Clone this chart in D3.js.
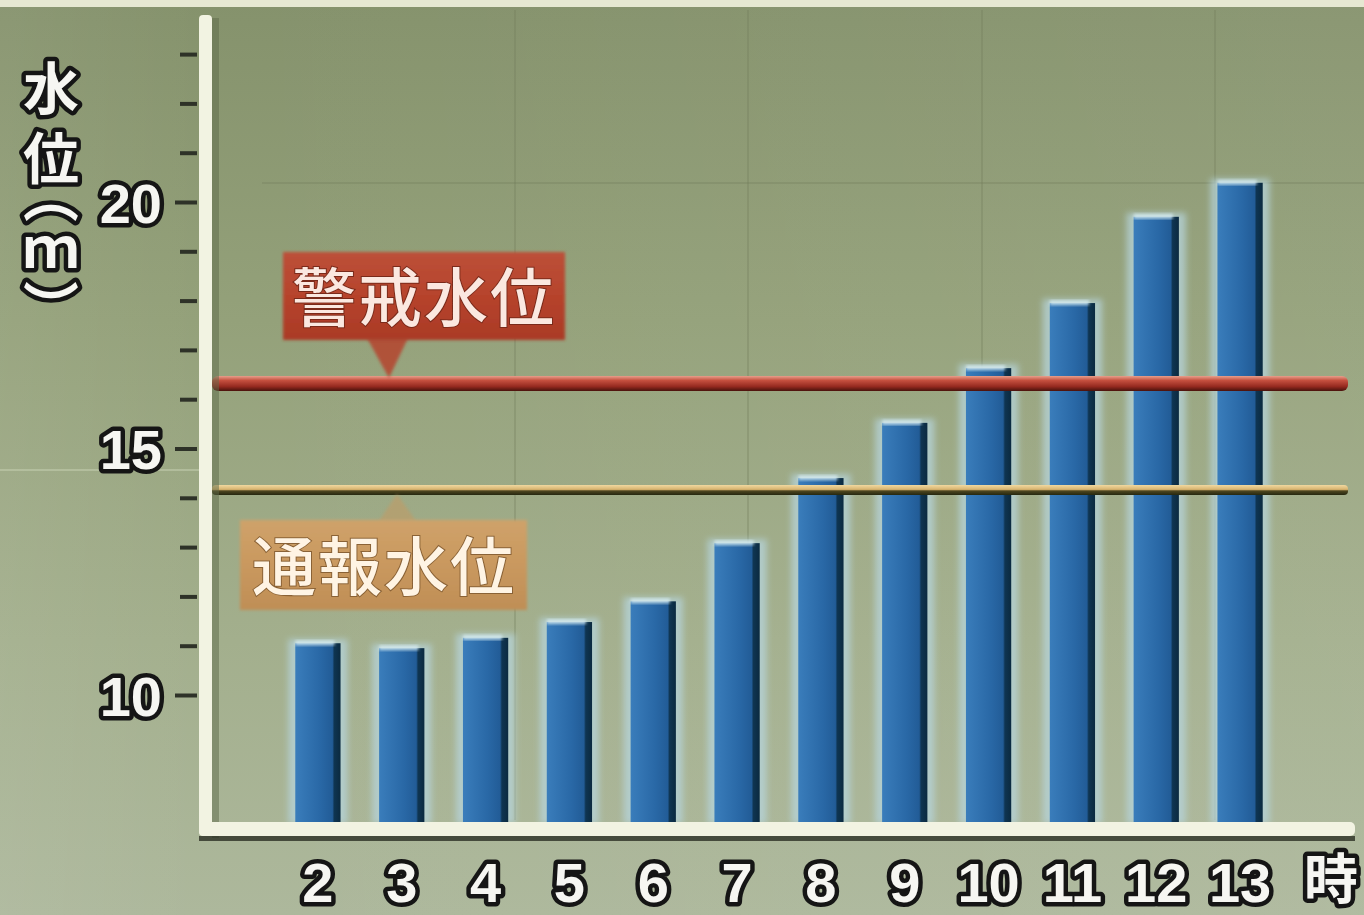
<!DOCTYPE html>
<html>
<head>
<meta charset="utf-8">
<script src="https://cdn.jsdelivr.net/npm/d3@7/dist/d3.min.js"></script>
<style>
  html, body { margin: 0; padding: 0; background: #95a27c; overflow: hidden; }
  svg { display: block; }
</style>
</head>
<body>
<svg id="chart" width="1364" height="915"></svg>
<script>
// ---- data ----
const hours = [2, 3, 4, 5, 6, 7, 8, 9, 10, 11, 12, 13];
const hourLabels = ["2", "3", "4", "5", "6", "7", "8", "9", "10", "11", "12", "13"];
const waterLevel = [11.05, 10.95, 11.16, 11.48, 11.9, 13.08, 14.4, 15.52, 16.63, 17.95, 19.7, 20.39];
const warningLevel = 16.33;   // 警戒水位
const reportLevel = 14.16;    // 通報水位
const yTicks = [10, 11, 12, 13, 14, 15, 16, 17, 18, 19, 20, 21, 22, 23];
const yMajor = [10, 15, 20];
const yTitleParts = ["水", "位", "（ｍ）"];
const xUnit = "時";
const warningText = "警戒水位";
const reportText = "通報水位";

// ---- setup ----
const W = 1364, H = 915;
const svg = d3.select("#chart");
const defs = svg.append("defs");

const y = d3.scaleLinear().domain([10, 20]).range([695, 202]);
const x = d3.scaleBand().domain(hours).range([276, 1282]).paddingInner(0.46).paddingOuter(0.23);
const yBase = y.invert(824);

function lin(id, stops, vertical = true) {
  const g = defs.append("linearGradient").attr("id", id)
    .attr("x1", 0).attr("y1", 0).attr("x2", vertical ? 0 : 1).attr("y2", vertical ? 1 : 0);
  stops.forEach(s => g.append("stop").attr("offset", s[0]).attr("stop-color", s[1]));
}
lin("bg", [[0, "#85926c"], [0.35, "#94a17a"], [0.7, "#a3af8d"], [1, "#adb89c"]]);
lin("bgL", [[0, "rgba(255,255,255,0.05)"], [0.15, "rgba(255,255,255,0)"], [1, "rgba(255,255,255,0.05)"]], false);
lin("barG", [[0, "#3a7dbb"], [0.55, "#2968a6"], [0.82, "#225c97"], [0.86, "#0f3552"], [1, "#0b2a40"]], false);
lin("redLine", [[0, "#e8a08c"], [0.3, "#c5503f"], [0.7, "#962a20"], [1, "#4a120c"]]);
lin("orangeLine", [[0, "#f1d9a0"], [0.45, "#d8b470"], [0.6, "#4e4620"], [1, "#262810"]]);
lin("redBox", [[0, "#bc5038"], [0.5, "#b6432c"], [1, "#aa3a26"]]);
lin("orangeBox", [[0, "#cfa26a"], [0.5, "#c9985e"], [1, "#bf8e56"]]);

const blur = defs.append("filter").attr("id", "blur").attr("x", "-50%").attr("y", "-20%").attr("width", "200%").attr("height", "140%");
blur.append("feGaussianBlur").attr("stdDeviation", 3);
const soft = defs.append("filter").attr("id", "soft").attr("x", "-10%").attr("y", "-20%").attr("width", "120%").attr("height", "140%");
soft.append("feGaussianBlur").attr("stdDeviation", 1.6);

// ---- background ----
svg.append("rect").attr("width", W).attr("height", H).attr("fill", "url(#bg)");
svg.append("rect").attr("width", W).attr("height", H).attr("fill", "url(#bgL)");
svg.append("rect").attr("width", W).attr("height", 7).attr("fill", "#e6e8d2");
const seams = svg.append("g").attr("stroke", "#6f7c58").attr("stroke-opacity", 0.3).attr("stroke-width", 2);
[515, 748, 982, 1215].forEach(sx => seams.append("line").attr("x1", sx).attr("x2", sx).attr("y1", 10).attr("y2", 820));
seams.append("line").attr("x1", 262).attr("x2", 1364).attr("y1", 183).attr("y2", 183);
seams.append("line").attr("x1", 0).attr("x2", 200).attr("y1", 470).attr("y2", 470).attr("stroke", "#c8d2b4").attr("stroke-opacity", 0.5);

// ---- bars ----
const bars = svg.append("g");
const data = hours.map((h, i) => ({ h, v: waterLevel[i] }));
bars.selectAll("rect.halo").data(data).join("rect").attr("class", "halo")
  .attr("x", d => x(d.h) - 7).attr("width", x.bandwidth() + 14)
  .attr("y", d => y(d.v) - 4).attr("height", d => y(yBase) - y(d.v) + 4)
  .attr("fill", "#b6d4dc").attr("opacity", 0.75).attr("filter", "url(#blur)");
bars.selectAll("rect.bar").data(data).join("rect").attr("class", "bar")
  .attr("x", d => x(d.h)).attr("width", x.bandwidth())
  .attr("y", d => y(d.v)).attr("height", d => y(yBase) - y(d.v))
  .attr("fill", "url(#barG)");
bars.selectAll("rect.cap").data(data).join("rect").attr("class", "cap")
  .attr("x", d => x(d.h)).attr("width", x.bandwidth() - 6)
  .attr("y", d => y(d.v) - 3).attr("height", 5)
  .attr("fill", "#d4eaf0").attr("opacity", 0.85).attr("filter", "url(#soft)");

// ---- reference lines ----
const lineX0 = 212, lineX1 = 1348;
svg.append("rect").attr("x", lineX0).attr("width", lineX1 - lineX0)
  .attr("y", y(warningLevel) - 7).attr("height", 15).attr("rx", 6)
  .attr("fill", "url(#redLine)");
svg.append("rect").attr("x", lineX0).attr("width", lineX1 - lineX0)
  .attr("y", y(reportLevel) - 5).attr("height", 10).attr("rx", 4)
  .attr("fill", "url(#orangeLine)");

// ---- callouts ----
const cjk = "'Noto Sans CJK JP', 'Noto Sans CJK SC', sans-serif";
const wy = y(warningLevel);
svg.append("path").attr("d", `M367,338 L408,338 L389,${wy - 5} Z`).attr("fill", "#b5452f").attr("opacity", 0.85).attr("filter", "url(#soft)");
svg.append("rect").attr("x", 283).attr("y", 252).attr("width", 282).attr("height", 88)
  .attr("fill", "url(#redBox)").attr("filter", "url(#soft)");
svg.append("text").attr("x", 424).attr("y", 298).attr("text-anchor", "middle").attr("dy", "0.36em")
  .attr("font-family", cjk).attr("font-weight", 500).attr("font-size", 64).attr("letter-spacing", 2)
  .attr("fill", "#fbe8e0").attr("stroke", "#7a2a1a").attr("stroke-width", 2).attr("paint-order", "stroke")
  .text(warningText);
const ry = y(reportLevel);
svg.append("path").attr("d", `M379,521 L416,521 L397,${ry + 4} Z`).attr("fill", "#c49a62").attr("opacity", 0.55).attr("filter", "url(#soft)");
svg.append("rect").attr("x", 240).attr("y", 520).attr("width", 287).attr("height", 90)
  .attr("fill", "url(#orangeBox)").attr("filter", "url(#soft)");
svg.append("text").attr("x", 384).attr("y", 567).attr("text-anchor", "middle").attr("dy", "0.36em")
  .attr("font-family", cjk).attr("font-weight", 500).attr("font-size", 64).attr("letter-spacing", 2)
  .attr("fill", "#fff4e4").attr("stroke", "#8a6236").attr("stroke-width", 2).attr("paint-order", "stroke")
  .text(reportText);

// ---- axes ----
const digitFont = "'Liberation Sans', Arial, sans-serif";
function outlined(sel) {
  return sel.attr("fill", "#f6f6f2").attr("stroke", "#151515").attr("stroke-width", 9)
    .attr("stroke-linejoin", "round").attr("paint-order", "stroke");
}

const yAxis = d3.axisLeft(y).tickValues(yTicks).tickSize(18).tickPadding(16)
  .tickFormat(d => yMajor.includes(d) ? String(d) : "");
const gy = svg.append("g").attr("transform", "translate(197,0)").call(yAxis);
gy.select(".domain").remove();
gy.selectAll(".tick line").attr("stroke", "#2e3228").attr("stroke-width", 4)
  .attr("x2", d => yMajor.includes(d) ? -22 : -17);
gy.selectAll(".tick text").attr("font-family", digitFont).attr("font-weight", "bold")
  .attr("font-size", 56).attr("x", -35).attr("dy", "0.36em").call(outlined);

svg.append("rect").attr("x", 212).attr("y", 18).attr("width", 7).attr("height", 820).attr("fill", "#5d6a4a").attr("opacity", 0.5);
svg.append("rect").attr("x", 199).attr("y", 836).attr("width", 1156).attr("height", 5).attr("fill", "#2c3024").attr("opacity", 0.8);
svg.append("rect").attr("x", 199).attr("y", 15).attr("width", 13).attr("height", 821).attr("rx", 4).attr("fill", "#f2f3e2");
svg.append("rect").attr("x", 199).attr("y", 822).attr("width", 1156).attr("height", 14).attr("rx", 5).attr("fill", "#f2f3e2");

const xAxis = d3.axisBottom(x).tickSize(0).tickPadding(0).tickFormat((d, i) => hourLabels[i]);
const gx = svg.append("g").attr("transform", "translate(0,836)").call(xAxis);
gx.select(".domain").remove();
gx.selectAll(".tick text").attr("font-family", digitFont).attr("font-weight", "bold")
  .attr("font-size", 56).attr("y", 46).attr("dy", "0.36em").call(outlined);

outlined(svg.append("text").attr("x", 1331).attr("y", 880).attr("dy", "0.36em").attr("text-anchor", "middle")
  .attr("font-family", cjk).attr("font-weight", "bold").attr("font-size", 54).text(xUnit));

// ---- y title: vertical writing mode (fullwidth parentheses become vertical forms) ----
const title = outlined(svg.append("text")
  .attr("x", 51).attr("y", 60)
  .attr("font-family", cjk).attr("font-weight", "bold").attr("font-size", 56)
  .style("writing-mode", "vertical-rl")
  .style("font-feature-settings", "'vpal' 1"));
const titleStart = [60, 130, 192];
const titleSpacing = [0, 0, 8];
title.selectAll("tspan").data(yTitleParts).join("tspan")
  .attr("x", 51)
  .attr("y", (d, i) => titleStart[i])
  .style("letter-spacing", (d, i) => titleSpacing[i] + "px")
  .text(d => d);
</script>
</body>
</html>
